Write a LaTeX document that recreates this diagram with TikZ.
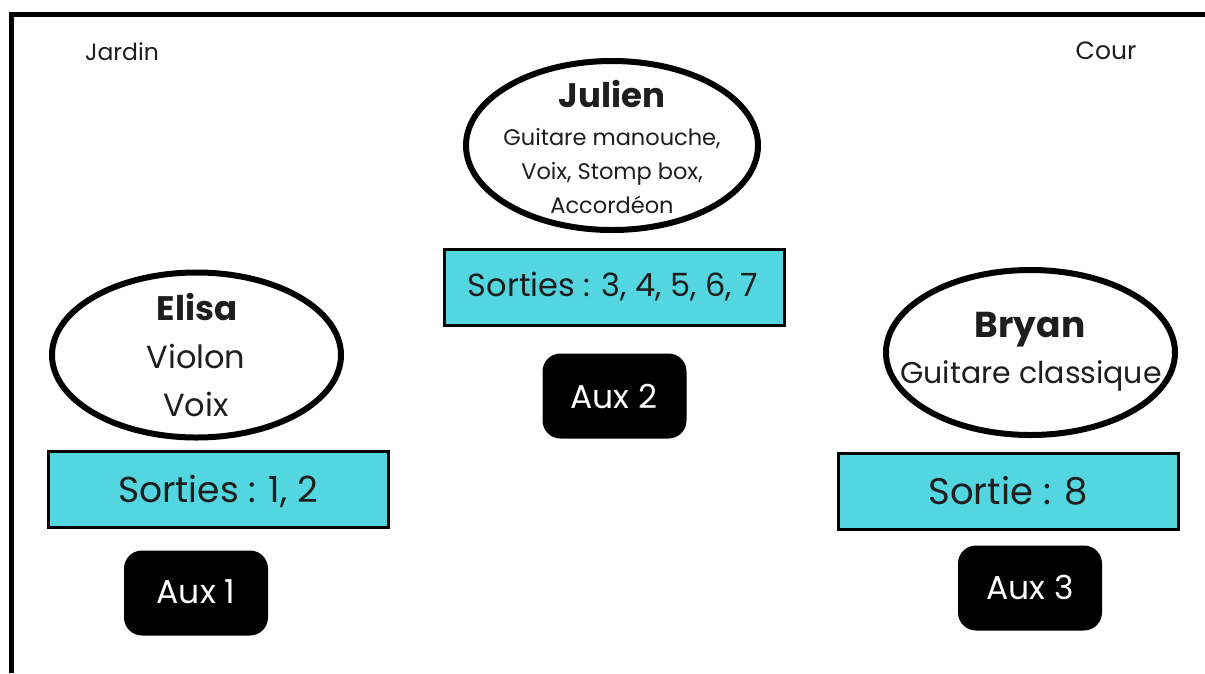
\documentclass[tikz,border=0pt]{standalone}
\usepackage{fontspec}
\setmainfont{Poppins}
\usetikzlibrary{shapes.geometric}
\definecolor{sortie}{RGB}{83,214,223}
\definecolor{ink}{RGB}{30,30,30}
\tikzset{
  person/.style={draw=black, line width=6pt, ellipse, fill=white, inner sep=0pt},
  outbox/.style={draw=black, line width=3pt, fill=sortie, inner sep=0pt, minimum width=340pt, minimum height=76pt},
  auxbox/.style={fill=black, rounded corners=18pt, inner sep=0pt, minimum width=144pt, minimum height=85pt},
  txt/.style={inner sep=0pt, anchor=base, text=ink},
  wtxt/.style={inner sep=0pt, anchor=base, text=white, font=\fontsize{33}{36}\selectfont},
}
\begin{document}
\begin{tikzpicture}[x=1pt,y=-1pt]
\useasboundingbox (0,0) rectangle (1205,673);
\fill[white] (0,0) rectangle (1205,673);
% stage border
\coordinate (tl) at (11,14.5);
\coordinate (tr) at (1205,14.5);
\coordinate (bl) at (11,673);
\draw[line width=5pt] (bl) -- (tl) -- (tr);

\node[txt, font=\fontsize{23.5}{26}\selectfont] (jardin) at (122,60) {Jardin};
\node[txt, font=\fontsize{25}{26}\selectfont] (cour) at (1106,59) {Cour};

% Julien
\node[person, minimum width=292pt, minimum height=169pt] (julien) at (612,145.5) {};
\node[txt, font=\fontsize{34}{36}\selectfont\bfseries] (j1) at (612,107) {Julien};
\node[txt, font=\fontsize{22.5}{26}\selectfont] (j2) at (612,145) {Guitare manouche,};
\node[txt, font=\fontsize{22.5}{26}\selectfont] (j3) at (612,179) {Voix, Stomp box,};
\node[txt, font=\fontsize{22.5}{26}\selectfont] (j4) at (612,213) {Accordéon};
\node[outbox] (outj) at (614,287) {};
\node[txt, font=\fontsize{32}{36}\selectfont] (outjt) at (613,296) {Sorties : 3, 4, 5, 6, 7};
\node[auxbox] (aux2) at (614.5,396) {};
\node[wtxt] (aux2t) at (614,408) {Aux 2};

% Elisa
\node[person, minimum width=289pt, minimum height=165pt] (elisa) at (196.5,355) {};
\node[txt, font=\fontsize{34}{36}\selectfont\bfseries] (e1) at (197,320) {Elisa};
\node[txt, font=\fontsize{32}{36}\selectfont] (e2) at (196,368) {Violon};
\node[txt, font=\fontsize{32}{36}\selectfont] (e3) at (196,416) {Voix};
\node[outbox] (oute) at (218.5,489.5) {};
\node[txt, font=\fontsize{36}{36}\selectfont] (outet) at (218,502) {Sorties : 1, 2};
\node[auxbox] (aux1) at (196,593) {};
\node[wtxt] (aux1t) at (196,603.5) {Aux 1};

% Bryan
\node[person, minimum width=289pt, minimum height=165pt] (bryan) at (1030.5,352.5) {};
\node[txt, font=\fontsize{36}{36}\selectfont\bfseries] (b1) at (1030,337) {Bryan};
\node[txt, font=\fontsize{30}{36}\selectfont] (b2) at (1031,383) {Guitare classique};
\node[outbox] (outb) at (1008.5,491) {};
\node[txt, font=\fontsize{37}{36}\selectfont] (outbt) at (1008,504) {Sortie : 8};
\node[auxbox] (aux3) at (1030,588) {};
\node[wtxt] (aux3t) at (1030,599) {Aux 3};
\end{tikzpicture}
\end{document}
